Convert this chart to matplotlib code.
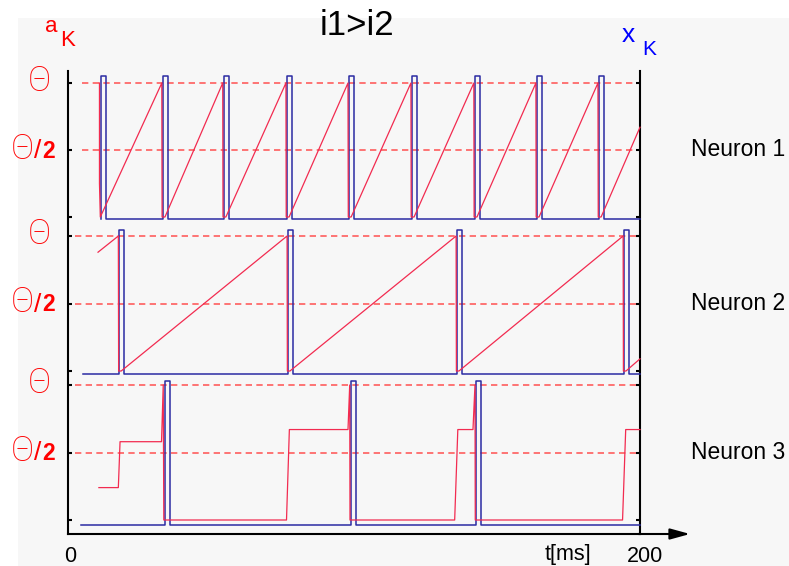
import matplotlib
matplotlib.use('Agg')
import matplotlib.pyplot as plt
from matplotlib.patches import Rectangle

plt.rcParams['font.family'] = ['Liberation Sans', 'DejaVu Sans']

W, H = 789, 566
T_END = 200

# spike onsets x_K (ms)
spikes = [
    [11.4, 33.2, 54.5, 76.6, 98.3, 120.3, 142.3, 164.0, 185.7],
    [17.8, 76.9, 136.0, 194.4],
    [33.9, 98.8, 142.7],
]
x_start = [11.4, 5.2, 4.5]          # where the blue trace begins
x_base = [-0.015, -0.022, -0.037]   # resting level of x_K (in units of theta)
x_top = [1.05, 1.045, 1.03]

# a_K traces (units of theta)
a1_t = [11.0, 11.0, 11.3, 32.8, 32.9, 33.9, 54.1, 54.2, 55.2, 76.2, 76.3, 77.3,
        97.9, 98.0, 99.0, 119.9, 120.0, 121.0, 141.9, 142.0, 143.0, 163.6, 163.7, 164.7,
        185.3, 185.4, 186.4, 200.0]
a1_v = [1.0, 0.25, 0.0, 1.0, 0.0, 0.0, 1.0, 0.0, 0.0, 1.0, 0.0, 0.0,
        1.0, 0.0, 0.0, 1.0, 0.0, 0.0, 1.0, 0.0, 0.0, 1.0, 0.0, 0.0,
        1.0, 0.0, 0.0, 0.67]

a2_t = [10.5, 17.6, 17.7, 18.6, 76.6, 76.7, 77.6, 135.7, 135.8, 136.7, 194.1, 194.2, 195.1, 200.0]
a2_v = [0.88, 1.0, 0.0, 0.0, 1.0, 0.0, 0.0, 1.0, 0.0, 0.0, 1.0, 0.0, 0.0, 0.09]

a3_t = [10.8, 17.6, 18.2, 32.7, 33.3, 33.5, 76.4, 77.4, 97.9, 98.5, 98.6,
        135.2, 136.3, 141.6, 142.3, 142.4, 193.9, 195.0, 200.0]
a3_v = [0.24, 0.24, 0.58, 0.58, 1.0, 0.0, 0.0, 0.67, 0.67, 1.0, 0.0,
        0.0, 0.67, 0.67, 1.0, 0.0, 0.0, 0.67, 0.67]

a_traces = [(a1_t, a1_v), (a2_t, a2_v), (a3_t, a3_v)]
names = ['Neuron 1', 'Neuron 2', 'Neuron 3']
levels = [0, 0.5, 1]
dash_start = [5.0, 2.5, 2.5]

SPIKE_W = 1.8
RED = '#f22b50'
BLUE = '#2b2ba3'
THETA_FONT = ['Roboto', 'Liberation Sans', 'DejaVu Sans']

# pixel layout of the three strips: (zero, theta, top, bottom)
strips = [(217, 83, 71, 228), (371, 236, 228, 378), (520, 385, 378, 534)]
X0, X1 = 68, 640


def fx(px):
    return px / W


def fy(py):
    return 1 - py / H


fig = plt.figure(figsize=(W / 100, H / 100), dpi=100, facecolor='white')
fig.patches.append(Rectangle((fx(18), 0), 1 - fx(18), fy(18), transform=fig.transFigure,
                             facecolor='#f7f7f7', edgecolor='none', zorder=-10))

# frame with arrow
frame = fig.add_axes([fx(X0), fy(534), fx(X1) - fx(X0), fy(71) - fy(534)])
frame.patch.set_visible(False)
frame.set_xticks([])
frame.set_yticks([])
frame.spines['top'].set_visible(False)
for s in ['left', 'right', 'bottom']:
    frame.spines[s].set_linewidth(1.5)
frame.annotate('', xy=(fx(690), fy(534)), xytext=(fx(X1 - 2), fy(534)),
               xycoords='figure fraction', textcoords='figure fraction',
               arrowprops=dict(arrowstyle='-|>,head_length=1.2,head_width=0.33',
                               color='black', lw=1.5, shrinkA=0, shrinkB=0,
                               mutation_scale=10))

for k, (zero, one, top, bot) in enumerate(strips):
    unit = zero - one
    ax = fig.add_axes([fx(X0), fy(bot), fx(X1) - fx(X0), fy(top) - fy(bot)])
    ax.patch.set_visible(False)
    for s in ax.spines.values():
        s.set_visible(False)
    ax.set_xlim(0, T_END)
    ax.set_ylim(-(bot - zero) / unit, (zero - top) / unit)
    ax.set_xticks([])
    ax.set_yticks(levels)
    ax.tick_params(axis='y', direction='in', left=True, right=True, length=3,
                   width=1.5, labelleft=False, labelright=False)

    for lv in levels[1:]:
        ax.plot([dash_start[k], T_END], [lv, lv], color='#ff4d4d', lw=1.2,
                dashes=(3.8, 2.6), alpha=0.9, zorder=1)

    # x_K spike train
    xt = [x_start[k]]
    xv = [x_base[k]]
    for s in spikes[k]:
        xt += [s, s, s + SPIKE_W, s + SPIKE_W]
        xv += [x_base[k], x_top[k], x_top[k], x_base[k]]
    xt.append(T_END)
    xv.append(x_base[k])
    ax.plot(xt, xv, color=BLUE, lw=1.1, clip_on=False, zorder=3)

    at, av = a_traces[k]
    ax.plot(at, av, color=RED, lw=0.9, clip_on=False, zorder=4)

    mid = (zero + one) / 2
    fig.text(fx(50.5), fy(one - 2), 'Θ', color='red', fontsize=25, fontweight='light',
             ha='right', va='center', family=THETA_FONT)
    fig.text(fx(33.5), fy(mid - 1), 'Θ', color='red', fontsize=25, fontweight='light',
             ha='right', va='center', family=THETA_FONT)
    fig.text(fx(38), fy(mid + 1), '/', color='red', fontsize=19, ha='center', va='center')
    fig.text(fx(42.5), fy(mid + 1), '2', color='red', fontsize=16.5, fontweight='bold',
             ha='left', va='center')
    fig.text(fx(691), fy(mid), names[k], fontsize=16.5, ha='left', va='center')

fig.text(fx(357), fy(35), 'i1>i2', fontsize=25, ha='center', va='baseline')
fig.text(fx(45), fy(32), 'a', color='red', fontsize=16, ha='left', va='baseline')
fig.text(fx(60), fy(46), 'K', color='red', fontsize=16, ha='left', va='baseline')
fig.text(fx(622), fy(42), 'x', color='blue', fontsize=19, ha='left', va='baseline')
fig.text(fx(642), fy(55), 'K', color='blue', fontsize=15, ha='left', va='baseline')
fig.text(fx(70), fy(562), '0', fontsize=15.5, ha='center', va='baseline')
fig.text(fx(545), fy(560), 't[ms]', fontsize=15.5, ha='left', va='baseline')
fig.text(fx(645), fy(562), '200', fontsize=15.5, ha='center', va='baseline')

fig.savefig('out.png', dpi=100, facecolor=fig.get_facecolor())
